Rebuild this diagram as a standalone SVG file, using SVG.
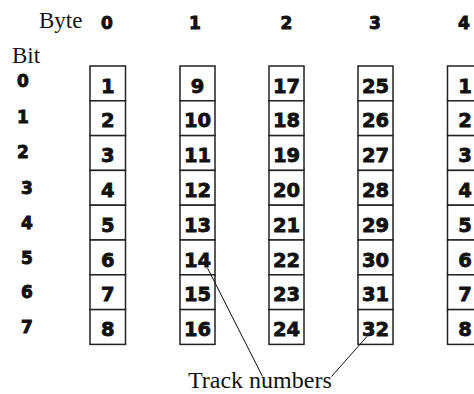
<svg xmlns="http://www.w3.org/2000/svg" width="474" height="394" viewBox="0 0 474 394">
<style>
.lbl{font-family:"Liberation Serif","Times New Roman",serif;font-size:23px;fill:#111}
.hd{font-family:"DejaVu Sans",Arial,sans-serif;font-weight:bold;font-size:17px;fill:#111;stroke:#111;stroke-width:0.9;text-anchor:middle}
.cell{fill:#fff;stroke:#222;stroke-width:1.5}
.num{font-family:"DejaVu Sans",Arial,sans-serif;font-weight:bold;font-size:19.5px;fill:#111;stroke:#111;stroke-width:0.8;text-anchor:middle}
.lead{stroke:#111;stroke-width:1;fill:none}
</style>
<rect width="474" height="394" fill="#fff"/>
<g id="headers">
<text class="lbl" x="39" y="28">Byte</text>
<text class="hd" x="107" y="29">0</text>
<text class="hd" x="195" y="29">1</text>
<text class="hd" x="286.5" y="29">2</text>
<text class="hd" x="375" y="29">3</text>
<text class="hd" x="464" y="29">4</text>
<text class="lbl" x="12" y="63">Bit</text>
<text class="hd" x="23" y="87">0</text>
<text class="hd" x="23" y="123">1</text>
<text class="hd" x="23" y="158">2</text>
<text class="hd" x="27" y="194">3</text>
<text class="hd" x="27" y="229">4</text>
<text class="hd" x="27" y="264">5</text>
<text class="hd" x="27" y="298">6</text>
<text class="hd" x="27" y="333">7</text>
</g>
<g id="byte0">
<rect class="cell" x="90" y="66" width="35.5" height="34.8"/><text class="num" x="107.75" y="92.5">1</text>
<rect class="cell" x="90" y="100.8" width="35.5" height="34.8"/><text class="num" x="107.75" y="127.3">2</text>
<rect class="cell" x="90" y="135.6" width="35.5" height="34.8"/><text class="num" x="107.75" y="162.1">3</text>
<rect class="cell" x="90" y="170.4" width="35.5" height="34.8"/><text class="num" x="107.75" y="196.9">4</text>
<rect class="cell" x="90" y="205.2" width="35.5" height="34.8"/><text class="num" x="107.75" y="231.7">5</text>
<rect class="cell" x="90" y="240" width="35.5" height="34.8"/><text class="num" x="107.75" y="266.5">6</text>
<rect class="cell" x="90" y="274.8" width="35.5" height="34.8"/><text class="num" x="107.75" y="301.3">7</text>
<rect class="cell" x="90" y="309.6" width="35.5" height="34.8"/><text class="num" x="107.75" y="336.1">8</text>
</g>
<g id="byte1">
<rect class="cell" x="180" y="66" width="35" height="34.8"/><text class="num" x="197.5" y="92.5">9</text>
<rect class="cell" x="180" y="100.8" width="35" height="34.8"/><text class="num" x="197.5" y="127.3">10</text>
<rect class="cell" x="180" y="135.6" width="35" height="34.8"/><text class="num" x="197.5" y="162.1">11</text>
<rect class="cell" x="180" y="170.4" width="35" height="34.8"/><text class="num" x="197.5" y="196.9">12</text>
<rect class="cell" x="180" y="205.2" width="35" height="34.8"/><text class="num" x="197.5" y="231.7">13</text>
<rect class="cell" x="180" y="240" width="35" height="34.8"/><text class="num" x="197.5" y="266.5">14</text>
<rect class="cell" x="180" y="274.8" width="35" height="34.8"/><text class="num" x="197.5" y="301.3">15</text>
<rect class="cell" x="180" y="309.6" width="35" height="34.8"/><text class="num" x="197.5" y="336.1">16</text>
</g>
<g id="byte2">
<rect class="cell" x="269" y="66" width="35" height="34.8"/><text class="num" x="286.5" y="92.5">17</text>
<rect class="cell" x="269" y="100.8" width="35" height="34.8"/><text class="num" x="286.5" y="127.3">18</text>
<rect class="cell" x="269" y="135.6" width="35" height="34.8"/><text class="num" x="286.5" y="162.1">19</text>
<rect class="cell" x="269" y="170.4" width="35" height="34.8"/><text class="num" x="286.5" y="196.9">20</text>
<rect class="cell" x="269" y="205.2" width="35" height="34.8"/><text class="num" x="286.5" y="231.7">21</text>
<rect class="cell" x="269" y="240" width="35" height="34.8"/><text class="num" x="286.5" y="266.5">22</text>
<rect class="cell" x="269" y="274.8" width="35" height="34.8"/><text class="num" x="286.5" y="301.3">23</text>
<rect class="cell" x="269" y="309.6" width="35" height="34.8"/><text class="num" x="286.5" y="336.1">24</text>
</g>
<g id="byte3">
<rect class="cell" x="358" y="66" width="35" height="34.8"/><text class="num" x="375.5" y="92.5">25</text>
<rect class="cell" x="358" y="100.8" width="35" height="34.8"/><text class="num" x="375.5" y="127.3">26</text>
<rect class="cell" x="358" y="135.6" width="35" height="34.8"/><text class="num" x="375.5" y="162.1">27</text>
<rect class="cell" x="358" y="170.4" width="35" height="34.8"/><text class="num" x="375.5" y="196.9">28</text>
<rect class="cell" x="358" y="205.2" width="35" height="34.8"/><text class="num" x="375.5" y="231.7">29</text>
<rect class="cell" x="358" y="240" width="35" height="34.8"/><text class="num" x="375.5" y="266.5">30</text>
<rect class="cell" x="358" y="274.8" width="35" height="34.8"/><text class="num" x="375.5" y="301.3">31</text>
<rect class="cell" x="358" y="309.6" width="35" height="34.8"/><text class="num" x="375.5" y="336.1">32</text>
</g>
<g id="byte4">
<rect class="cell" x="447.5" y="66" width="35" height="34.8"/><text class="num" x="465" y="92.5">1</text>
<rect class="cell" x="447.5" y="100.8" width="35" height="34.8"/><text class="num" x="465" y="127.3">2</text>
<rect class="cell" x="447.5" y="135.6" width="35" height="34.8"/><text class="num" x="465" y="162.1">3</text>
<rect class="cell" x="447.5" y="170.4" width="35" height="34.8"/><text class="num" x="465" y="196.9">4</text>
<rect class="cell" x="447.5" y="205.2" width="35" height="34.8"/><text class="num" x="465" y="231.7">5</text>
<rect class="cell" x="447.5" y="240" width="35" height="34.8"/><text class="num" x="465" y="266.5">6</text>
<rect class="cell" x="447.5" y="274.8" width="35" height="34.8"/><text class="num" x="465" y="301.3">7</text>
<rect class="cell" x="447.5" y="309.6" width="35" height="34.8"/><text class="num" x="465" y="336.1">8</text>
</g>
<g id="connectors">
<line class="lead" x1="207.5" y1="268" x2="262.5" y2="376.5"/>
<line class="lead" x1="366.5" y1="337" x2="331.5" y2="376.5"/>
</g>
<g id="caption">
<text class="lbl" x="188" y="388" style="font-size:24px">Track numbers</text>
</g>
</svg>
